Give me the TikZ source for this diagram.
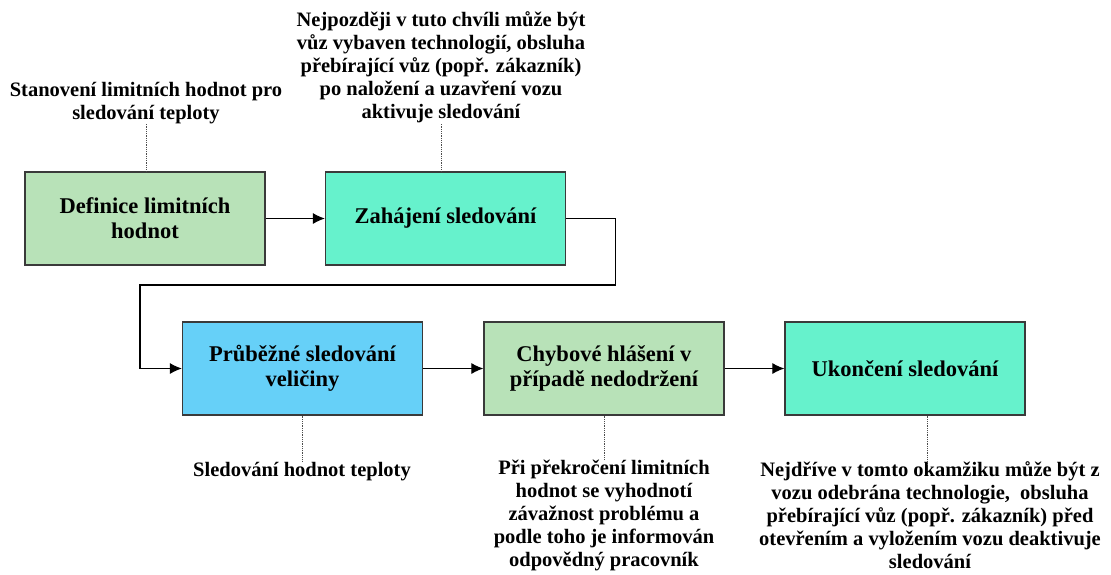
\documentclass[tikz,border=0pt]{standalone}
\usepackage{fontspec}
\setmainfont{Liberation Serif}
\usetikzlibrary{arrows.meta}

\definecolor{boxgreen}{HTML}{B8E2B8}
\definecolor{boxaqua}{HTML}{66F2CC}
\definecolor{boxblue}{HTML}{66D0F8}
\definecolor{boxline}{HTML}{3A3A3A}

\begin{document}
\begin{tikzpicture}[x=1pt,y=-1pt,
        krok/.style={rectangle, draw=boxline, line width=1.2pt,
                        minimum width=240pt, minimum height=93pt,
                        align=center, font=\bfseries\fontsize{22.5}{25}\selectfont},
        pozn/.style={align=center, inner sep=0pt,
                        font=\bfseries\fontsize{20.5}{23}\selectfont},
        tok/.style={line width=1.1pt, -{Latex[length=12pt,width=11pt]}},
        tecky/.style={densely dotted, line width=0.8pt, black!70}]
    \useasboundingbox (0,0) rectangle (1111,574);

    % kroky sledovani
    \node[krok, fill=boxgreen] (definice) at (145,218.5) {Definice limitních\\hodnot};
    \node[krok, fill=boxaqua]  (zahajeni) at (445.5,218.5) {Zahájení sledování};
    \node[krok, fill=boxblue]  (prubezne) at (302.5,368.5) {Průběžné sledování\\veličiny};
    \node[krok, fill=boxgreen] (chyba)    at (604,368.5) {Chybové hlášení v\\případě nedodržení};
    \node[krok, fill=boxaqua]  (ukonceni) at (905,368.5) {Ukončení sledování};

    % poznamky
    \node[pozn, anchor=south] (p1) at (146,124) {Stanovení limitních hodnot pro\\sledování teploty};
    \node[pozn, anchor=south] (p2) at (441,123) {Nejpozději v tuto chvíli může být\\vůz vybaven technologií, obsluha\\přebírající vůz (popř. zákazník)\\po naložení a uzavření vozu\\aktivuje sledování};
    \node[pozn, anchor=north] (p3) at (302,462) {Sledování hodnot teploty};
    \node[pozn, anchor=north] (p4) at (604,460) {Při překročení limitních\\hodnot se vyhodnotí\\závažnost problému a\\podle toho je informován\\odpovědný pracovník};
    \node[pozn, anchor=north] (p5) at (930,461) {Nejdříve v tomto okamžiku může být z\\vozu odebrána technologie,\ \ obsluha\\přebírající vůz (popř. zákazník) před\\otevřením a vyložením vozu deaktivuje\\sledování};

    % tecky k poznamkam
    \draw[tecky] (definice.north -| p1.south) -- (p1.south);
    \draw[tecky] (zahajeni.north -| p2.south) -- (p2.south);
    \draw[tecky] (prubezne.south -| p3.north) -- (p3.north);
    \draw[tecky] (chyba.south -| p4.north) -- (p4.north);
    \draw[tecky] ([xshift=-3pt]p5.north |- ukonceni.south) -- ([xshift=-3pt,yshift=-4pt]p5.north);

    % tok mezi kroky
    \draw[tok] (definice) -- (zahajeni);
    \draw[tok] (zahajeni.east) -- ++(49,0) |- (140,285) |- (prubezne.west);
    \draw[tok] (prubezne) -- (chyba);
    \draw[tok] (chyba) -- (ukonceni);
\end{tikzpicture}
\end{document}
